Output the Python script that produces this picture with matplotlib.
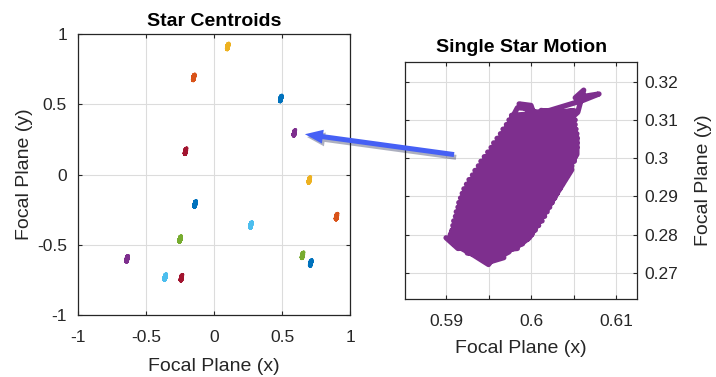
import matplotlib
matplotlib.use("Agg")
import matplotlib.pyplot as plt
import matplotlib.patheffects as pe
from matplotlib.patches import FancyArrowPatch
import numpy as np

plt.rcParams['font.family'] = ['Liberation Sans', 'DejaVu Sans']

# star centroid positions on the focal plane
star_x = [0.71, -0.15, 0.10, 0.59, 0.65, 0.27, -0.21, -0.14, 0.90, 0.70, -0.64, -0.25, -0.36, -0.24, 0.49]
star_y = [-0.63, 0.69, 0.91, 0.295, -0.575, -0.36, 0.165, -0.21, -0.30, -0.04, -0.60, -0.46, -0.73, -0.735, 0.54]

# MATLAB default colour order, cycled over the 15 stars
colors = ['#0072BD', '#D95319', '#EDB120', '#7E2F8E', '#77AC30', '#4DBEEE', '#A2142F']
star_colors = colors + colors + colors[:1]

# motion trace of the purple star
track_x = [0.5950, 0.5968, 0.5925, 0.5984, 0.5909, 0.5996, 0.5906, 0.6005, 0.5908, 0.6013,
           0.5911, 0.6019, 0.5914, 0.6025, 0.5917, 0.6031, 0.5921, 0.6037, 0.5927, 0.6043,
           0.5934, 0.6048, 0.5941, 0.6052, 0.5949, 0.6054, 0.5956, 0.6054, 0.5964, 0.6053,
           0.5971, 0.6052, 0.5977, 0.6051, 0.6015, 0.5995, 0.5986, 0.6000, 0.6003, 0.6022,
           0.6062, 0.6080, 0.6052, 0.6062, 0.6055,
           0.6051, 0.5974, 0.6052, 0.5967, 0.6054, 0.5960, 0.6054, 0.5953, 0.6053, 0.5945,
           0.6051, 0.5938, 0.6045, 0.5931, 0.6040, 0.5924, 0.6034, 0.5919, 0.6028, 0.5915,
           0.6022, 0.5912, 0.6016, 0.5909, 0.6009, 0.5907, 0.6001, 0.5906, 0.5990, 0.5914,
           0.5900, 0.5925, 0.5930, 0.5950, 0.5958, 0.5981,
           0.5905, 0.5984, 0.5998, 0.5915, 0.5928, 0.6012, 0.6026, 0.5940, 0.5952, 0.6040,
           0.6050, 0.5963, 0.5974, 0.6054, 0.6054, 0.5986, 0.5998, 0.6048]
track_y = [0.2728, 0.2740, 0.2752, 0.2764, 0.2776, 0.2788, 0.2800, 0.2812, 0.2824, 0.2836,
           0.2848, 0.2860, 0.2872, 0.2884, 0.2896, 0.2908, 0.2920, 0.2932, 0.2944, 0.2956,
           0.2968, 0.2980, 0.2992, 0.3004, 0.3016, 0.3028, 0.3040, 0.3052, 0.3064, 0.3076,
           0.3088, 0.3100, 0.3112, 0.3124, 0.3115, 0.3128, 0.3142, 0.3138, 0.3118, 0.3125,
           0.3152, 0.3168, 0.3158, 0.3178, 0.3120,
           0.3112, 0.3100, 0.3088, 0.3076, 0.3064, 0.3052, 0.3040, 0.3028, 0.3016, 0.3004,
           0.2992, 0.2980, 0.2968, 0.2956, 0.2944, 0.2932, 0.2920, 0.2908, 0.2896, 0.2884,
           0.2872, 0.2860, 0.2848, 0.2836, 0.2824, 0.2812, 0.2800, 0.2788, 0.2776, 0.2764,
           0.2792, 0.2775, 0.2750, 0.2722, 0.2748, 0.2765,
           0.2800, 0.3132, 0.3130, 0.2768, 0.2752, 0.3125, 0.3120, 0.2740, 0.2730, 0.3112,
           0.3090, 0.2742, 0.2755, 0.3055, 0.3010, 0.2772, 0.2792, 0.2970]

dark = '#262626'
fig = plt.figure(figsize=(7.16, 3.77), dpi=100)

def style(ax):
    ax.grid(True, color='#dcdcdc', linewidth=0.8)
    ax.set_axisbelow(True)
    for s in ax.spines.values():
        s.set_color(dark)
        s.set_linewidth(0.9)
    ax.tick_params(direction='in', length=3, colors=dark, labelsize=12.5,
                   top=True, right=True, left=True, bottom=True)
    ax.tick_params(axis='x', pad=11)
    ax.tick_params(axis='y', pad=8)

# left panel: all stars
ax1 = fig.add_axes([0.109, 0.164, 0.380, 0.746])
tx = np.array(track_x) - np.mean(track_x)
ty = np.array(track_y) - np.mean(track_y)
for cx, cy, c in zip(star_x, star_y, star_colors):
    ax1.plot(cx + tx, cy + ty, color=c, lw=2.4, solid_capstyle='round', solid_joinstyle='round')
ax1.set_xlim(-1, 1)
ax1.set_ylim(-1, 1)
ax1.set_xticks([-1, -0.5, 0, 0.5, 1])
ax1.set_xticklabels(['-1', '-0.5', '0', '0.5', '1'])
ax1.set_yticks([-1, -0.5, 0, 0.5, 1])
ax1.set_yticklabels(['-1', '-0.5', '0', '0.5', '1'])
style(ax1)
ax1.set_title('Star Centroids', fontsize=14, fontweight='bold', color='black', pad=6)
ax1.set_xlabel('Focal Plane (x)', fontsize=14, color=dark, labelpad=9)
ax1.set_ylabel('Focal Plane (y)', fontsize=14, color=dark, labelpad=3)

# right panel: motion of one star
ax2 = fig.add_axes([0.566, 0.207, 0.324, 0.629])
ax2.plot(track_x, track_y, color=colors[3], lw=3.8, solid_capstyle='round', solid_joinstyle='round')
ax2.set_xlim(0.5852, 0.6125)
ax2.set_ylim(0.2632, 0.3252)
ax2.set_xticks([0.59, 0.595, 0.6, 0.605, 0.61])
ax2.set_xticklabels(['0.59', '', '0.6', '', '0.61'])
ax2.set_yticks([0.27, 0.28, 0.29, 0.30, 0.31, 0.32])
ax2.set_yticklabels(['0.27', '0.28', '0.29', '0.3', '0.31', '0.32'])
style(ax2)
ax2.tick_params(axis='y', labelleft=False, labelright=True, pad=5)
ax2.yaxis.set_label_position('right')
ax2.set_title('Single Star Motion', fontsize=14, fontweight='bold', color='black', pad=7)
ax2.set_xlabel('Focal Plane (x)', fontsize=14, color=dark, labelpad=8)
ax2.set_ylabel('Focal Plane (y)', fontsize=14, color=dark, labelpad=12)

# arrow between the panels
arrow = FancyArrowPatch((0.638, 0.589), (0.422, 0.645), transform=fig.transFigure,
                        arrowstyle='simple,head_length=13,head_width=10,tail_width=3.6',
                        mutation_scale=1, color='#4660f5', lw=0,
                        path_effects=[pe.SimplePatchShadow(offset=(1.5, -2), alpha=0.35), pe.Normal()])
fig.add_artist(arrow)

fig.savefig('out.png', dpi=100)
